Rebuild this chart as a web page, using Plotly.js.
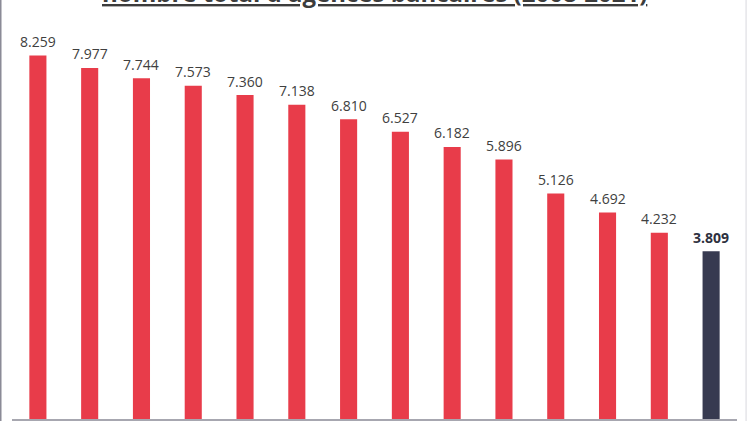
<!DOCTYPE html>
<html>
<head>
<meta charset="utf-8">
<script src="https://cdn.plot.ly/plotly-3.0.1.min.js"></script>
<style>
  html, body { margin: 0; padding: 0; background: #fff; }
  #chart { width: 749px; height: 421px; }
</style>
</head>
<body>
<div id="chart"></div>
<script>
var years = [2008, 2009, 2010, 2011, 2012, 2013, 2014,
             2015, 2016, 2017, 2018, 2019, 2020, 2021];
var agences = [8259, 7977, 7744, 7573, 7360, 7138, 6810,
               6527, 6182, 5896, 5126, 4692, 4232, 3809];
var labels = ['8.259', '7.977', '7.744', '7.573', '7.360', '7.138', '6.810',
              '6.527', '6.182', '5.896', '5.126', '4.692', '4.232', '3.809'];

var red = 'rgb(232, 60, 74)';
var navy = 'rgb(55, 58, 80)';
var last = years.length - 1;

var colors = years.map(function (y, i) { return i === last ? navy : red; });

var data = [{
  x: years,
  y: agences,
  type: 'bar',
  marker: { color: colors },
  hoverinfo: 'none'
}];

// value labels above each bar, last one in bold
var notes = years.map(function (y, i) {
  return {
    x: y,
    y: agences[i],
    xref: 'x',
    yref: 'y',
    text: i === last ? '<b>' + labels[i] + '</b>' : labels[i],
    showarrow: false,
    yanchor: 'middle',
    yshift: 14,
    font: { family: 'Open Sans', size: 14, color: i === last ? '#2e3140' : '#404040' }
  };
});

// title, mostly cut off at top of the picture
notes.push({
  x: 0.5,
  y: 1,
  xref: 'paper',
  yref: 'paper',
  xanchor: 'center',
  yanchor: 'bottom',
  yshift: -11,
  showarrow: false,
  text: "<b><u>nombre total d'agences bancaires (2008-2021)</u></b>",
  font: { family: 'Open Sans', size: 24, color: '#3c3c3c' }
});

var layout = {
  width: 749,
  height: 421,
  margin: { l: 12, r: 12, t: 0, b: 2, pad: 0 },
  paper_bgcolor: '#fff',
  plot_bgcolor: '#fff',
  showlegend: false,
  bargap: 0.67,
  xaxis: {
    type: 'linear',
    range: [2007.5, 2021.5],
    showticklabels: false,
    ticks: '',
    showgrid: false,
    zeroline: false,
    showline: true,
    linecolor: '#a7a7b0',
    linewidth: 2
  },
  yaxis: {
    range: [0, 9520],
    visible: false,
    showgrid: false,
    zeroline: false
  },
  shapes: [
    { type: 'line', xref: 'paper', yref: 'paper', x0: -0.0155, x1: -0.0155, y0: -0.01, y1: 1,
      line: { color: '#8a8a96', width: 1.5 } },
    { type: 'line', xref: 'paper', yref: 'paper', x0: 1.0125, x1: 1.0125, y0: -0.01, y1: 1,
      line: { color: '#d8d8de', width: 1 } }
  ],
  annotations: notes
};

Plotly.newPlot('chart', data, layout, { staticPlot: true });
</script>
</body>
</html>
